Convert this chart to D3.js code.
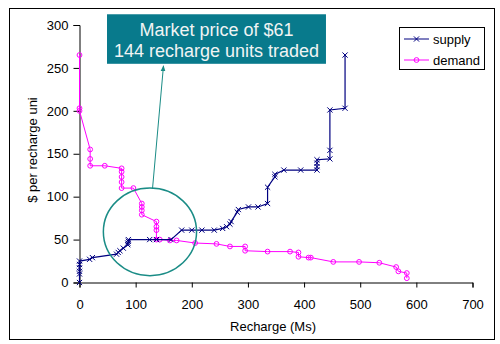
<!DOCTYPE html>
<html><head><meta charset="utf-8">
<script src="https://cdn.jsdelivr.net/npm/d3@7"></script>
<style>
html,body{margin:0;padding:0;background:#fff;}
svg{display:block;font-family:"Liberation Sans",Arial,sans-serif;}
</style></head>
<body><svg id="c" width="500" height="344"></svg>
<script>
// ---- data ----
const supplyQty   = [0,0,0,0,0,0,18,23,66,69,72,78,86,86,87,87,125,137,163,182,200,218,240,255,262,268,270,281,283,301,318,335,335,348,348,364,394,423,423,423,423,446,446,446,473,473];
const supplyPrice = [0,10,13,17,21,25,27,29,33,35,37,40,44,46,48,50,50,50,50,61,61,61,61,63,65,68,71,82,85,88,88,92,111,123,126,131,131,131,135,139,143,144,154,201,203,265];
const demandQty   = [0,0,0,19,19,19,45,75,75,75,75,75,96,111,111,111,111,137,137,137,137,143,161,173,206,244,268,295,295,335,375,390,390,408,412,452,498,534,564,568,583,583];
const demandPrice = [265,203,200,155,144,136,136,133,129,123,117,110,110,92,88,84,79,71,65,61,50,50,49,49,46,45,42,42,37,36,36,35,30,29,29,24,24,23,18,13,11,5];
const xTicks = [0,100,200,300,400,500,600,700];
const yTicks = [0,50,100,150,200,250,300];
const seriesNames = ["supply","demand"];
const annotationLines = ["Market price of $61","144 recharge units traded"];
const xTitle = "Recharge (Ms)";
const yTitle = "$ per recharge uni";

const supply = supplyQty.map((q,i)=>({q, p: supplyPrice[i]}));
const demand = demandQty.map((q,i)=>({q, p: demandPrice[i]}));

const svg = d3.select("#c");
const x = d3.scaleLinear().domain([0,700]).range([79.5,472.5]);
const y = d3.scaleLinear().domain([0,300]).range([282.5,25]);

// outer frame
svg.append("rect").attr("x",9.5).attr("y",8.5).attr("width",485).attr("height",331)
  .attr("fill","none").attr("stroke","#000").attr("stroke-width",1);

// axes
const gy = svg.append("g").attr("transform","translate(79.5,0)")
  .call(d3.axisLeft(y).tickValues(yTicks).tickSize(6).tickPadding(5).tickFormat(d3.format("d")));
const gx = svg.append("g").attr("transform","translate(0,282.5)")
  .call(d3.axisBottom(x).tickValues(xTicks).tickSize(5).tickPadding(12.5).tickFormat(d3.format("d")));
[gx,gy].forEach(g=>{
  g.select(".domain").attr("stroke","#000");
  g.selectAll(".tick line").attr("stroke","#000");
  g.selectAll("text").attr("font-size",13).attr("font-family","Liberation Sans, Arial, sans-serif").attr("fill","#000");
});

// axis titles
svg.append("text").attr("x",273).attr("y",331).attr("text-anchor","middle")
  .attr("font-size",13).text(xTitle);
svg.append("text").attr("transform","translate(37,150) rotate(-90)").attr("text-anchor","middle")
  .attr("font-size",13).text(yTitle);

const line = d3.line().x(d=>x(d.q)).y(d=>y(d.p));

// demand
svg.append("path").datum(demand).attr("d",line).attr("fill","none")
  .attr("stroke","#FF00FF").attr("stroke-width",1);
svg.append("g").selectAll("circle").data(demand).join("circle")
  .attr("cx",d=>x(d.q)).attr("cy",d=>y(d.p)).attr("r",2.4)
  .attr("fill","none").attr("stroke","#FF00FF").attr("stroke-width",1);

// supply
svg.append("path").datum(supply).attr("d",line).attr("fill","none")
  .attr("stroke","#000080").attr("stroke-width",1.2);
const xm = 2.6;
svg.append("g").selectAll("path").data(supply).join("path")
  .attr("d",d=>{const cx=x(d.q), cy=y(d.p);
    return `M${cx-xm},${cy-xm}L${cx+xm},${cy+xm}M${cx-xm},${cy+xm}L${cx+xm},${cy-xm}`;})
  .attr("stroke","#000080").attr("stroke-width",1).attr("fill","none");

// annotation: circle
const teal = "#1A8C86";
const cxD = 125.5, cyD = 59;
svg.append("ellipse").attr("cx",x(cxD)).attr("cy",y(cyD))
  .attr("rx",x(cxD+83)-x(cxD)).attr("ry",y(cyD)-y(cyD+51))
  .attr("fill","none").attr("stroke",teal).attr("stroke-width",1.5);

// arrow
const defs = svg.append("defs");
defs.append("marker").attr("id","ah").attr("viewBox","0 0 10 10").attr("refX",9).attr("refY",5)
  .attr("markerWidth",6).attr("markerHeight",6).attr("orient","auto")
  .append("path").attr("d","M0,1L10,5L0,9Z").attr("fill",teal);
svg.append("line").attr("x1",x(130)).attr("y1",y(109)).attr("x2",x(149.6)).attr("y2",y(252.5))
  .attr("stroke",teal).attr("stroke-width",1).attr("marker-end","url(#ah)");

// annotation box
const bx0 = x(49), bx1 = x(439), by0 = y(312.5), by1 = y(254.8);
svg.append("rect").attr("x",bx0).attr("y",by0).attr("width",bx1-bx0).attr("height",by1-by0)
  .attr("fill","#087A8C");
svg.append("g").selectAll("text").data(annotationLines).join("text")
  .attr("x",(bx0+bx1)/2).attr("y",(d,i)=>36+i*20.5).attr("text-anchor","middle")
  .attr("font-size",18).attr("fill","#F0F4F4").text(d=>d);

// legend
const lg = svg.append("g");
lg.append("rect").attr("x",399.5).attr("y",27.5).attr("width",85).attr("height",42)
  .attr("fill","#fff").attr("stroke","#000").attr("stroke-width",1);
const rows = lg.selectAll("g").data(seriesNames).join("g")
  .attr("transform",(d,i)=>`translate(0,${39+i*21})`);
rows.append("line").attr("x1",404).attr("x2",429).attr("y1",0).attr("y2",0)
  .attr("stroke",(d,i)=>i===0?"#000080":"#FF00FF").attr("stroke-width",1);
rows.each(function(d,i){
  const g = d3.select(this);
  if(i===0){
    g.append("path").attr("d",`M${416.5-xm},${-xm}L${416.5+xm},${xm}M${416.5-xm},${xm}L${416.5+xm},${-xm}`)
      .attr("stroke","#000080").attr("stroke-width",1);
  } else {
    g.append("circle").attr("cx",416.5).attr("cy",0).attr("r",2.4).attr("fill","none")
      .attr("stroke","#FF00FF").attr("stroke-width",1);
  }
});
rows.append("text").attr("x",433).attr("y",0).attr("dy","0.35em")
  .attr("font-size",13).attr("fill","#000").text(d=>d);
</script>
</body></html>
